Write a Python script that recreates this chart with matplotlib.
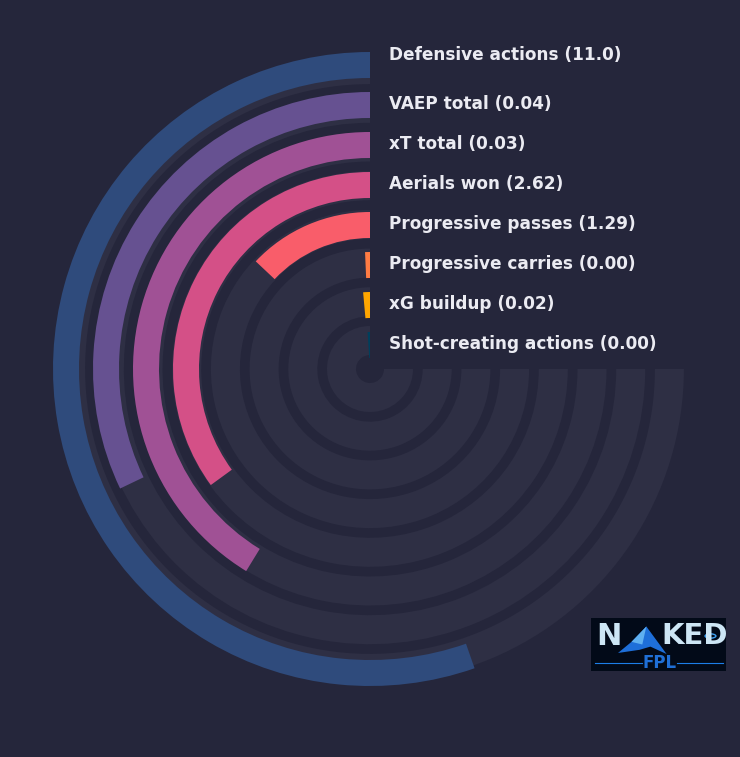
import numpy as np
import matplotlib.pyplot as plt
from matplotlib.patches import Polygon, Circle
import matplotlib.transforms as mtransforms

# metrics, outer ring first
metrics = ["Defensive actions", "VAEP total", "xT total", "Aerials won",
           "Progressive passes", "Progressive carries", "xG buildup",
           "Shot-creating actions"]
values = [11.0, 0.04, 0.03, 2.62, 1.29, 0.00, 0.02, 0.00]
# percentile rank -> fraction of the 270 degree track
percentiles = [73.8, 42.8, 55.0, 46.7, 17.3, 0.9, 1.9, 1.4]
colors = ["#2f4b7c", "#665191", "#a05195", "#d45087",
          "#f95d6a", "#ff7c43", "#ffa600", "#003f5c"]

BG = "#25263b"
TRACK = "#2e2f44"
TXT = "#ebebf2"

W, H = 740, 757
R = 330  # radial axis limit in pixels
fig = plt.figure(figsize=(W / 100, H / 100), dpi=100, facecolor=BG)
cx, cy = 370, 369
ax = fig.add_axes([(cx - R) / W, 1 - (cy + R) / H, 2 * R / W, 2 * R / H],
                  projection="polar")
ax.set_facecolor(BG)
ax.set_theta_zero_location("N")
ax.set_theta_direction(1)
ax.set_ylim(0, R)

n = len(metrics)
max_angle = np.deg2rad(270)
for k in range(n):
    i = n - 1 - k  # ring index from the centre
    track_mid = 28.5 + 38.7 * i
    bar_mid = 24 + 40 * i
    ax.barh(track_mid, max_angle, left=0, height=29, color=TRACK, lw=0)
    ax.barh(bar_mid, max_angle * percentiles[k] / 100, left=0, height=26,
            color=colors[k], lw=0)
    v = values[k]
    vs = f"{v:.1f}" if v >= 10 else f"{v:.2f}"
    dy = 10 if k == 0 else 1
    tr = ax.transData + mtransforms.ScaledTranslation(19 / 100, dy / 100,
                                                      fig.dpi_scale_trans)
    ax.text(0, bar_mid, f"{metrics[k]} ({vs})", transform=tr, ha="left",
            va="center", color=TXT, fontsize=12.2, fontweight="bold")

ax.grid(False)
ax.set_xticks([])
ax.set_yticks([])
ax.spines["polar"].set_visible(False)

# logo
lax = fig.add_axes([591 / W, 1 - 671 / H, 135 / W, 53 / H])
lax.set_facecolor("#020a18")
lax.set_xlim(0, 1)
lax.set_ylim(0, 1)
lax.set_xticks([])
lax.set_yticks([])
for s in lax.spines.values():
    s.set_visible(False)
lax.add_patch(Polygon([[0.20, 0.34], [0.30, 0.55], [0.41, 0.84], [0.56, 0.32],
                       [0.44, 0.46], [0.36, 0.40]], closed=True,
                      color="#1e6fd9", lw=0))
lax.add_patch(Polygon([[0.30, 0.55], [0.41, 0.84], [0.38, 0.50]], closed=True,
                      color="#5fb0f0", lw=0))
lax.text(0.135, 0.66, "N", color="#cde6f5", fontsize=22, fontweight="heavy",
         ha="center", va="center")
lax.text(0.77, 0.66, "KED", color="#cde6f5", fontsize=21, fontweight="heavy",
         ha="center", va="center")
lax.add_patch(Circle((0.885, 0.66), 0.04, fc="#020a18", ec="#3fa0f0", lw=1))
lax.text(0.51, 0.16, "FPL", color="#1f6fd6", fontsize=12, fontweight="bold",
         ha="center", va="center")
lax.plot([0.03, 0.38], [0.16, 0.16], color="#1c7ee8", lw=0.8)
lax.plot([0.64, 0.98], [0.16, 0.16], color="#1c7ee8", lw=0.8)

fig.savefig("out.png", dpi=100, facecolor=BG)
